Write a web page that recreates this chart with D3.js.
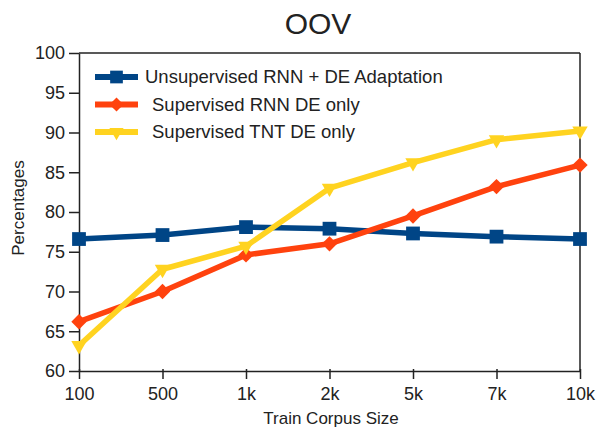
<!DOCTYPE html>
<html>
<head>
<meta charset="utf-8">
<script src="https://cdn.jsdelivr.net/npm/d3@7"></script>
<style>
  body { margin: 0; background: #fff; }
  text { font-family: "Liberation Sans", Arial, sans-serif; fill: #222; }
</style>
</head>
<body>
<svg id="chart" width="598" height="430"></svg>
<script>
const categories = ["100", "500", "1k", "2k", "5k", "7k", "10k"];
const unsupervisedRnn = [76.6, 77.1, 78.1, 77.9, 77.3, 76.9, 76.6];
const supervisedRnn = [66.2, 70.0, 74.6, 76.0, 79.5, 83.2, 85.9];
const supervisedTnt = [63.2, 72.8, 75.7, 83.0, 86.2, 89.1, 90.2];
const yTicks = [60, 65, 70, 75, 80, 85, 90, 95, 100];

const series = [
  { name: "Unsupervised RNN + DE Adaptation", values: unsupervisedRnn, color: "#004586", symbol: d3.symbolSquare, size: 190, rotate: 0 },
  { name: "Supervised RNN DE only", values: supervisedRnn, color: "#ff420e", symbol: d3.symbolDiamond2, size: 150, rotate: 0 },
  { name: "Supervised TNT DE only", values: supervisedTnt, color: "#ffd320", symbol: d3.symbolTriangle2, size: 170, rotate: 180 },
];

const svg = d3.select("#chart");
const margin = { top: 53, right: 18, bottom: 59, left: 79 };
const width = 598, height = 430;
const innerWidth = width - margin.left - margin.right;
const innerHeight = height - margin.top - margin.bottom;

const g = svg.append("g").attr("transform", `translate(${margin.left},${margin.top})`);

const x = d3.scalePoint().domain(categories).range([0, innerWidth]).padding(0);
const y = d3.scaleLinear().domain([60, 100]).range([innerHeight, 0]);

// frame top + right
g.append("line").attr("x1", 0).attr("x2", innerWidth).attr("y1", 0).attr("y2", 0)
  .attr("stroke", "#222").attr("stroke-width", 1.5);
g.append("line").attr("x1", innerWidth).attr("x2", innerWidth).attr("y1", 0).attr("y2", innerHeight)
  .attr("stroke", "#222").attr("stroke-width", 1.5);

const xAxis = g.append("g").attr("transform", `translate(0,${innerHeight})`)
  .call(d3.axisBottom(x).tickSize(8).tickSizeOuter(0));
const yAxis = g.append("g")
  .call(d3.axisLeft(y).tickValues(yTicks).tickSize(10).tickSizeOuter(0));

[xAxis, yAxis].forEach((a) => {
  a.select(".domain").attr("stroke", "#222").attr("stroke-width", 1.5);
  a.selectAll(".tick line").attr("stroke", "#222").attr("stroke-width", 1.5);
  a.selectAll("text").attr("font-size", 18).attr("fill", "#333")
    .attr("font-family", "Liberation Sans, Arial, sans-serif");
});
xAxis.selectAll(".tick line").attr("y1", -2);
xAxis.selectAll("text").attr("dy", "1.0em");
yAxis.selectAll("text").attr("dx", "-1px");

const line = d3.line().x((d, i) => x(categories[i])).y((d) => y(d));

series.forEach((s) => {
  g.append("path").datum(s.values)
    .attr("d", line).attr("fill", "none")
    .attr("stroke", s.color).attr("stroke-width", 5.5)
    .attr("stroke-linejoin", "round");
  g.selectAll(null).data(s.values).join("path")
    .attr("d", d3.symbol().type(s.symbol).size(s.size))
    .attr("transform", (d, i) => `translate(${x(categories[i])},${y(d)}) rotate(${s.rotate})`)
    .attr("fill", s.color);
});

// legend
const legend = svg.append("g").attr("transform", "translate(95,77)");
series.forEach((s, i) => {
  const row = legend.append("g").attr("transform", `translate(0,${i * 27.5})`);
  row.append("line").attr("x1", 0).attr("x2", 43).attr("stroke", s.color).attr("stroke-width", 6);
  row.append("path").attr("d", d3.symbol().type(s.symbol).size(s.size * 0.85))
    .attr("transform", `translate(21.5,0) rotate(${s.rotate})`).attr("fill", s.color);
  row.append("text").attr("x", i === 0 ? 50 : 57).attr("y", 0).attr("dy", "0.35em")
    .attr("font-size", 18.5).text(s.name);
});

svg.append("text").attr("x", 318).attr("y", 34).attr("text-anchor", "middle")
  .attr("font-size", 30).text("OOV");
svg.append("text").attr("x", 331).attr("y", 424).attr("text-anchor", "middle")
  .attr("font-size", 17).text("Train Corpus Size");
svg.append("text").attr("transform", `translate(24,208) rotate(-90)`)
  .attr("text-anchor", "middle").attr("font-size", 17).text("Percentages");
</script>
</body>
</html>
